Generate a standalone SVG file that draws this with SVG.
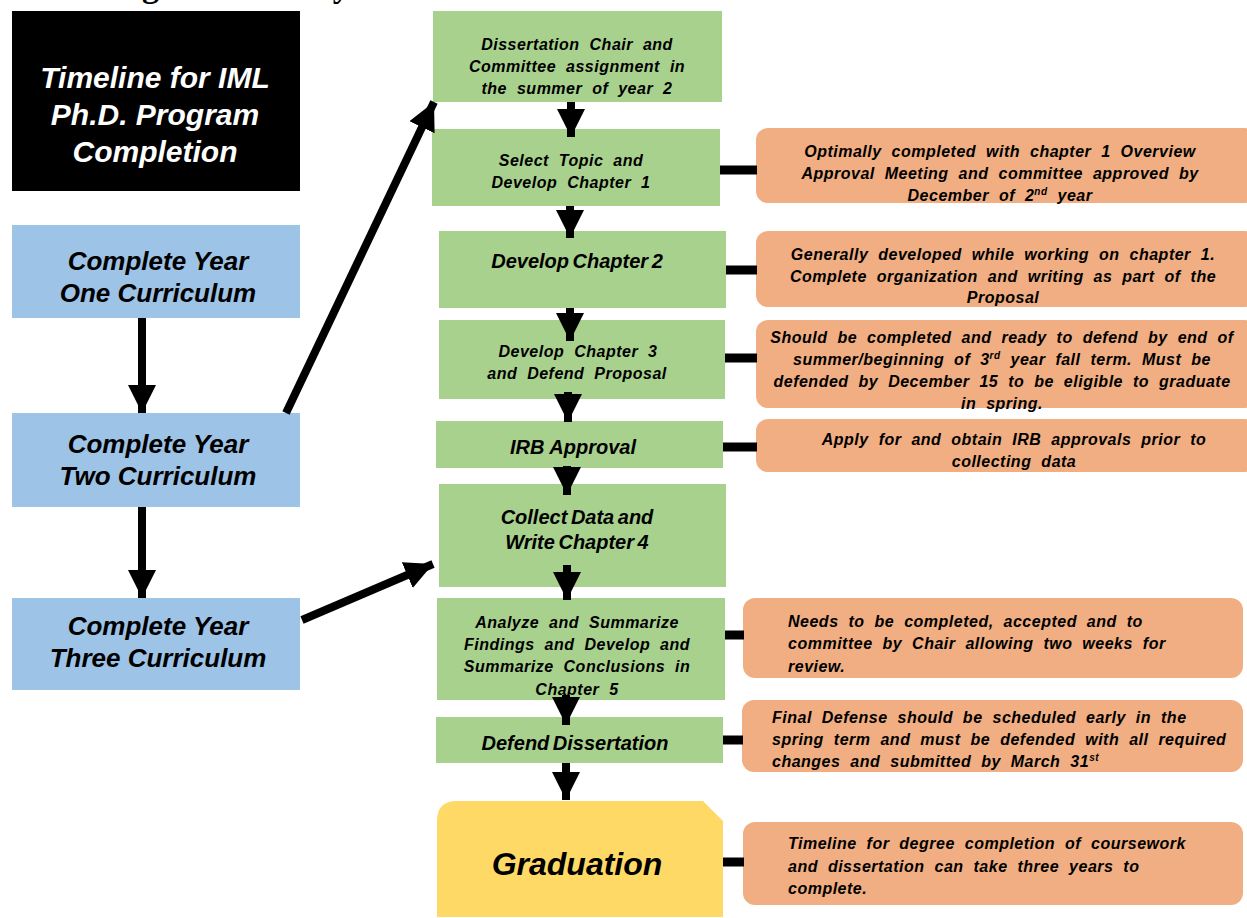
<svg xmlns="http://www.w3.org/2000/svg" width="1247" height="918" viewBox="0 0 1247 918">
<defs>
<marker id="ah" markerUnits="userSpaceOnUse" markerWidth="28" markerHeight="28" refX="26" refY="13" orient="auto" viewBox="0 0 26 26">
<path d="M0,0 L26,13 L0,26 Z" fill="#000"/>
</marker>
<style>
.t{font-family:"Liberation Sans",Arial,sans-serif;font-weight:bold;font-style:italic;fill:#000}
.c{text-anchor:middle}
.s{font-size:16px;letter-spacing:0.5px;word-spacing:5px}
.m{font-size:20px;word-spacing:-2px}
.blue{fill:#9DC3E6}
.green{fill:#A9D18E}
.orange{fill:#F0AE82}
.arr{stroke:#000;stroke-width:8;fill:none;marker-end:url(#ah)}
.stub{stroke:#000;stroke-width:9}
.sup{font-size:10px}
</style>
</defs>
<rect width="1247" height="918" fill="#fff"/>
<text x="0" y="-3" font-family="Liberation Serif,serif" font-weight="bold" font-size="34" fill="#000">Ph.D. Program of Study and Flowchart</text>

<g id="title">
<rect x="12" y="11" width="288" height="180" fill="#000"/>
<text class="t c" x="155" y="88" font-size="30" style="fill:#fff">Timeline for IML</text>
<text class="t c" x="155" y="125" font-size="30" style="fill:#fff">Ph.D. Program</text>
<text class="t c" x="155" y="162" font-size="30" style="fill:#fff">Completion</text>
</g>

<g id="year1">
<rect class="blue" x="12" y="225" width="288" height="93"/>
<text class="t c" x="158" y="270" font-size="26">Complete Year</text>
<text class="t c" x="158" y="302" font-size="26">One Curriculum</text>
</g>
<g id="year2">
<rect class="blue" x="12" y="413" width="288" height="94"/>
<text class="t c" x="158" y="453" font-size="26">Complete Year</text>
<text class="t c" x="158" y="485" font-size="26">Two Curriculum</text>
</g>
<g id="year3">
<rect class="blue" x="12" y="598" width="288" height="92"/>
<text class="t c" x="158" y="635" font-size="26">Complete Year</text>
<text class="t c" x="158" y="667" font-size="26">Three Curriculum</text>
</g>

<g id="chair">
<rect class="green" x="433" y="11" width="289" height="91"/>
<text class="t c s" x="577" y="50">Dissertation Chair and</text>
<text class="t c s" x="577" y="72">Committee assignment in</text>
<text class="t c s" x="577" y="94">the summer of year 2</text>
</g>
<g id="topic">
<rect class="green" x="432" y="129" width="288" height="77"/>
<text class="t c s" x="571" y="166">Select Topic and</text>
<text class="t c s" x="571" y="188">Develop Chapter 1</text>
</g>
<g id="ch2">
<rect class="green" x="439" y="231" width="287" height="77"/>
<text class="t c m" x="577" y="268">Develop Chapter 2</text>
</g>
<g id="ch3">
<rect class="green" x="439" y="320" width="286" height="79"/>
<text class="t c s" x="578" y="357">Develop Chapter 3</text>
<text class="t c s" x="577" y="379">and Defend Proposal</text>
</g>
<g id="irb">
<rect class="green" x="436" y="421" width="287" height="47"/>
<text class="t c" x="573" y="454" font-size="20">IRB Approval</text>
</g>
<g id="ch4">
<rect class="green" x="439" y="484" width="287" height="103"/>
<text class="t c m" x="577" y="524">Collect Data and</text>
<text class="t c m" x="577" y="549">Write Chapter 4</text>
</g>
<g id="ch5">
<rect class="green" x="437" y="598" width="288" height="102"/>
<text class="t c s" x="577" y="628">Analyze and Summarize</text>
<text class="t c s" x="577" y="650">Findings and Develop and</text>
<text class="t c s" x="577" y="672">Summarize Conclusions in</text>
<text class="t c s" x="577" y="695">Chapter 5</text>
</g>
<g id="defend">
<rect class="green" x="436" y="717" width="287" height="46"/>
<text class="t c m" x="575" y="750">Defend Dissertation</text>
</g>
<g id="graduation">
<path d="M437,821 Q437,801 457,801 L703,801 L723,821 L723,917 L437,917 Z" fill="#FFD966"/>
<text class="t c" x="577" y="875" font-size="32">Graduation</text>
</g>

<g id="note1">
<rect class="orange" x="756" y="128" width="500" height="75" rx="12"/>
<text class="t c s" x="1000" y="157">Optimally completed with chapter 1 Overview</text>
<text class="t c s" x="1000" y="179">Approval Meeting and committee approved by</text>
<text class="t c s" x="1000" y="201">December of 2<tspan class="sup" dy="-6">nd</tspan><tspan dy="6"> year</tspan></text>
</g>
<g id="note2">
<rect class="orange" x="756" y="231" width="500" height="76" rx="12"/>
<text class="t c s" x="1003" y="260">Generally developed while working on chapter 1.</text>
<text class="t c s" x="1003" y="282">Complete organization and writing as part of the</text>
<text class="t c s" x="1003" y="303">Proposal</text>
</g>
<g id="note3">
<rect class="orange" x="756" y="320" width="500" height="88" rx="12"/>
<text class="t c s" x="1002" y="343">Should be completed and ready to defend by end of</text>
<text class="t c s" x="1002" y="365">summer/beginning of 3<tspan class="sup" dy="-6">rd</tspan><tspan dy="6"> year fall term.  Must be</tspan></text>
<text class="t c s" x="1002" y="387">defended by December 15 to be eligible to graduate</text>
<text class="t c s" x="1002" y="409">in spring.</text>
</g>
<g id="note4">
<rect class="orange" x="756" y="419" width="500" height="53" rx="12"/>
<text class="t c s" x="1014" y="445">Apply for and obtain IRB approvals prior to</text>
<text class="t c s" x="1014" y="467">collecting data</text>
</g>
<g id="note5">
<rect class="orange" x="743" y="598" width="500" height="80" rx="12"/>
<text class="t s" x="788" y="627">Needs to be completed, accepted and to</text>
<text class="t s" x="788" y="649">committee by Chair allowing two weeks for</text>
<text class="t s" x="788" y="672">review.</text>
</g>
<g id="note6">
<rect class="orange" x="742" y="700" width="501" height="72" rx="12"/>
<text class="t s" x="772" y="723">Final Defense should be scheduled early in the</text>
<text class="t s" x="772" y="745">spring term and must be defended with all required</text>
<text class="t s" x="772" y="767">changes and submitted by March 31<tspan class="sup" dy="-6">st</tspan></text>
</g>
<g id="note7">
<rect class="orange" x="743" y="822" width="500" height="83" rx="12"/>
<text class="t s" x="788" y="849">Timeline for degree completion of coursework</text>
<text class="t s" x="788" y="872">and dissertation can take three years to</text>
<text class="t s" x="788" y="894">complete.</text>
</g>

<g id="connectors">
<line class="arr" x1="142" y1="318" x2="142" y2="413"/>
<line class="arr" x1="142" y1="507" x2="142" y2="598"/>
<line class="arr" x1="286" y1="413" x2="434" y2="102"/>
<line class="arr" x1="302" y1="620" x2="433" y2="564"/>
<line class="arr" x1="571" y1="102" x2="571" y2="137"/>
<line class="arr" x1="570" y1="206" x2="570" y2="238"/>
<line class="arr" x1="570" y1="308" x2="570" y2="341"/>
<line class="arr" x1="568" y1="392" x2="568" y2="422"/>
<line class="arr" x1="567" y1="466" x2="567" y2="495"/>
<line class="arr" x1="567" y1="565" x2="567" y2="600"/>
<line class="arr" x1="566" y1="695" x2="566" y2="725"/>
<line class="arr" x1="566" y1="763" x2="566" y2="800"/>
<line class="stub" x1="720" y1="170" x2="757" y2="170"/>
<line class="stub" x1="726" y1="270" x2="757" y2="270"/>
<line class="stub" x1="725" y1="358" x2="757" y2="358"/>
<line class="stub" x1="723" y1="447" x2="757" y2="447"/>
<line class="stub" x1="725" y1="635" x2="744" y2="635"/>
<line class="stub" x1="723" y1="740" x2="743" y2="740"/>
<line class="stub" x1="723" y1="862" x2="744" y2="862"/>
</g>
</svg>
